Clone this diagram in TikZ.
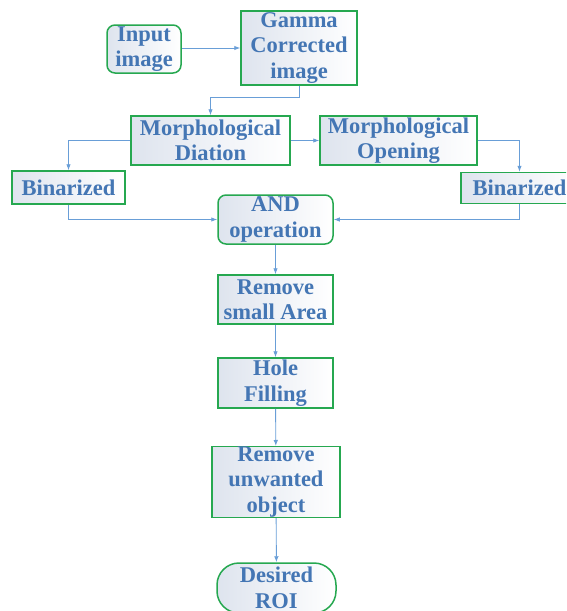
\documentclass[tikz,border=0pt]{standalone}
\usepackage{fontspec}
\setmainfont{Liberation Serif}
\usepackage{tikz}
\usetikzlibrary{arrows.meta, positioning, calc}
\definecolor{txtblue}{RGB}{68,118,180}
\definecolor{boxgreen}{RGB}{38,168,80}
\definecolor{arrblue}{RGB}{105,158,215}
\definecolor{boxshade}{RGB}{222,228,238}

\begin{document}
\begin{tikzpicture}[
    x=1pt, y=-1pt,
    font=\fontsize{22.5}{25.5}\selectfont\bfseries,
    box/.style = {
        rectangle, draw=boxgreen, line width=1.5pt,
        left color=boxshade, right color=white,
        text=txtblue, align=center, inner sep=0pt
    },
    rbox/.style = {box, rounded corners=8pt},
    arr/.style = {-{Latex[length=6pt, width=4.5pt]}, line width=0.9pt, draw=arrblue},
]
\useasboundingbox (0,0) rectangle (566,611);
\clip (0,0) rectangle (566,611);

% Input and correction
\node[rbox, minimum width=74pt, minimum height=48pt] (inp) at (144,49) {Input\\image};
\node[box, minimum width=116pt, minimum height=74pt] (gamma) at (299,48) {Gamma\\Corrected\\image};

% Morphology
\node[box, minimum width=159pt, minimum height=49pt] (dil) at (210.5,140.5) {Morphological\\Diation};
\node[box, minimum width=157pt, minimum height=49pt] (opn) at (398.5,140.5) {Morphological\\Opening};

% Binarized
\node[box, minimum width=113pt, minimum height=33pt] (binl) at (68.5,187.5) {Binarized};
\node[box, minimum width=117pt, minimum height=31pt] (binr) at (519.5,188) {Binarized};

% Main chain
\node[rbox, minimum width=115pt, minimum height=49pt] (and) at (275.5,219.5) {AND\\operation};
\node[box, minimum width=115pt, minimum height=49pt] (rsa) at (275.5,299.5) {Remove\\small Area};
\node[box, minimum width=115pt, minimum height=50pt] (hole) at (275.5,383) {Hole\\Filling};
\node[box, minimum width=128pt, minimum height=66pt] (rwo) at (276,482) {Remove\\unwanted\\object};
\node[box, rounded corners=22pt, minimum width=119pt, minimum height=50pt] (roi) at (276.5,588) {Desired\\ROI};

% Arrows
\draw[arr] (inp.east|-gamma) -- (gamma);
\draw[arr] (gamma.south) -- ++(0,12) -| (dil.north);
\draw[arr] (dil.west) -| (binl.north);
\draw[arr] (dil) -- (opn);
\draw[arr] (opn.east) -| (binr.north);
\draw[arr] (binl.south) |- (and.west);
\draw[arr] (binr.south) |- (and.east);
\draw[arr] (and) -- (rsa);
\draw[arr] (rsa) -- (hole);
\draw[arr] (hole) -- (rwo);
\draw[arr] (rwo) -- (roi);

\end{tikzpicture}
\end{document}
